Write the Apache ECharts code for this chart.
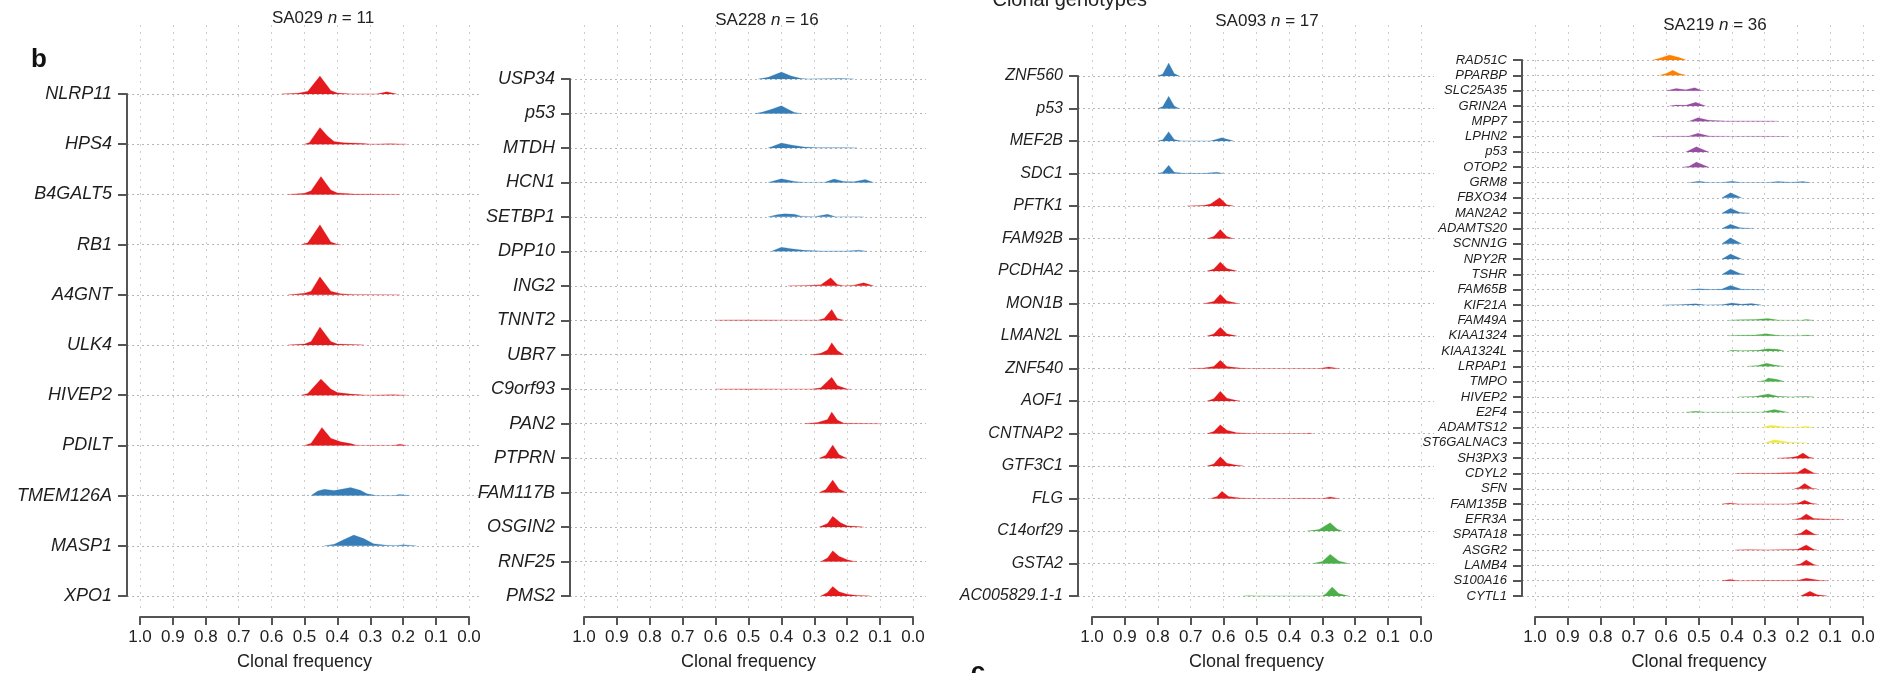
<!DOCTYPE html>
<html><head><meta charset="utf-8">
<script src="https://cdn.jsdelivr.net/npm/echarts/dist/echarts.min.js"></script>
<style>html,body{margin:0;padding:0;background:#fff;}#c{width:1892px;height:673px;}</style>
</head><body><div id="c"></div>
<script>
// ---------------- DATA ----------------
const xTickLabels = ['1.0','0.9','0.8','0.7','0.6','0.5','0.4','0.3','0.2','0.1','0.0'];
const sampleNames = ['SA029','SA228','SA093','SA219'];
const set1 = ['#E41A1C','#377EB8','#4DAF4A','#984EA3','#FF7F00','#F2EA3A'];

const sa029Genes = ['NLRP11','HPS4','B4GALT5','RB1','A4GNT','ULK4','HIVEP2','PDILT','TMEM126A','MASP1','XPO1'];
const sa029Clone = [0,0,0,0,0,0,0,0,1,1,-1];
const sa029Ridges = [
 [[0.57,0],[0.52,0.04],[0.49,0.15],[0.453,1],[0.42,0.2],[0.40,0.05],[0.36,0],[0.28,0],[0.25,0.12],[0.22,0]],
 [[0.50,0],[0.485,0.1],[0.453,0.93],[0.43,0.45],[0.41,0.15],[0.38,0.08],[0.32,0.04],[0.30,0],[0.24,0.02],[0.19,0]],
 [[0.55,0],[0.50,0.06],[0.48,0.2],[0.45,1],[0.42,0.25],[0.40,0.08],[0.35,0.02],[0.21,0]],
 [[0.51,0],[0.49,0.1],[0.453,1.1],[0.42,0.15],[0.40,0.02],[0.39,0]],
 [[0.55,0],[0.50,0.08],[0.48,0.2],[0.453,1],[0.42,0.2],[0.39,0.06],[0.35,0.02],[0.21,0]],
 [[0.55,0],[0.50,0.06],[0.48,0.2],[0.453,1],[0.42,0.2],[0.40,0.05],[0.34,0.02],[0.32,0]],
 [[0.51,0],[0.49,0.1],[0.45,0.9],[0.42,0.35],[0.40,0.15],[0.36,0.06],[0.31,0],[0.23,0.02],[0.19,0]],
 [[0.50,0],[0.48,0.12],[0.447,1],[0.42,0.4],[0.39,0.2],[0.36,0.1],[0.34,0],[0.23,0],[0.21,0.07],[0.19,0]],
 [[0.48,0],[0.46,0.25],[0.44,0.35],[0.41,0.28],[0.38,0.38],[0.36,0.45],[0.33,0.3],[0.31,0.1],[0.28,0],[0.23,0],[0.21,0.06],[0.18,0]],
 [[0.44,0],[0.41,0.08],[0.38,0.35],[0.35,0.6],[0.32,0.4],[0.29,0.12],[0.25,0.03],[0.22,0.02],[0.20,0.06],[0.16,0]],
 null
];

const sa228Genes = ['USP34','p53','MTDH','HCN1','SETBP1','DPP10','ING2','TNNT2','UBR7','C9orf93','PAN2','PTPRN','FAM117B','OSGIN2','RNF25','PMS2'];
const sa228Clone = [1,1,1,1,1,1,0,0,0,0,0,0,0,0,0,0];
const sa228Ridges = [
 [[0.47,0],[0.44,0.15],[0.40,0.58],[0.37,0.25],[0.34,0.05],[0.32,0],[0.27,0.02],[0.22,0.04],[0.18,0]],
 [[0.48,0],[0.46,0.1],[0.43,0.35],[0.40,0.64],[0.38,0.35],[0.36,0.08],[0.34,0]],
 [[0.44,0],[0.42,0.2],[0.40,0.42],[0.37,0.25],[0.33,0.08],[0.29,0.02],[0.20,0.02],[0.17,0]],
 [[0.44,0],[0.40,0.3],[0.36,0.08],[0.33,0],[0.27,0],[0.24,0.28],[0.21,0.08],[0.18,0.05],[0.145,0.25],[0.12,0]],
 [[0.44,0],[0.41,0.2],[0.39,0.25],[0.36,0.22],[0.34,0.06],[0.30,0.02],[0.26,0.22],[0.235,0],[0.20,0.02],[0.15,0]],
 [[0.43,0],[0.40,0.35],[0.37,0.22],[0.33,0.08],[0.28,0.02],[0.20,0.02],[0.165,0.1],[0.14,0]],
 [[0.38,0],[0.33,0.03],[0.28,0.08],[0.25,0.67],[0.23,0.1],[0.21,0],[0.18,0.05],[0.15,0.25],[0.12,0]],
 [[0.60,0],[0.55,0.03],[0.43,0.02],[0.40,0],[0.29,0],[0.27,0.15],[0.247,0.9],[0.23,0.15],[0.21,0]],
 [[0.31,0],[0.28,0.12],[0.26,0.4],[0.247,1.0],[0.23,0.35],[0.21,0]],
 [[0.60,0],[0.50,0.02],[0.40,0],[0.31,0],[0.28,0.12],[0.247,1.0],[0.23,0.3],[0.20,0.02],[0.19,0]],
 [[0.33,0],[0.29,0.1],[0.26,0.35],[0.247,0.97],[0.23,0.3],[0.21,0.04],[0.10,0]],
 [[0.285,0],[0.265,0.25],[0.244,1.1],[0.225,0.3],[0.205,0.03],[0.20,0]],
 [[0.285,0],[0.265,0.25],[0.244,1.05],[0.225,0.3],[0.205,0.03],[0.20,0]],
 [[0.285,0],[0.26,0.3],[0.244,0.9],[0.22,0.35],[0.20,0.1],[0.16,0.02],[0.15,0]],
 [[0.28,0],[0.26,0.3],[0.244,0.9],[0.225,0.45],[0.20,0.15],[0.18,0.02],[0.17,0]],
 [[0.28,0],[0.26,0.3],[0.244,0.8],[0.225,0.35],[0.20,0.15],[0.17,0.05],[0.13,0]]
];

const sa093Genes = ['ZNF560','p53','MEF2B','SDC1','PFTK1','FAM92B','PCDHA2','MON1B','LMAN2L','ZNF540','AOF1','CNTNAP2','GTF3C1','FLG','C14orf29','GSTA2','AC005829.1-1'];
const sa093Clone = [1,1,1,1,0,0,0,0,0,0,0,0,0,0,2,2,2];
const sa093Ridges = [
 [[0.80,0],[0.785,0.15],[0.767,1.0],[0.75,0.2],[0.735,0]],
 [[0.80,0],[0.785,0.15],[0.767,0.95],[0.75,0.2],[0.735,0]],
 [[0.80,0],[0.785,0.1],[0.767,0.72],[0.75,0.12],[0.73,0],[0.64,0],[0.605,0.25],[0.57,0]],
 [[0.80,0],[0.785,0.1],[0.767,0.64],[0.75,0.1],[0.72,0.02],[0.66,0.01],[0.62,0.1],[0.60,0]],
 [[0.71,0],[0.66,0.04],[0.64,0.15],[0.612,0.64],[0.59,0.1],[0.57,0]],
 [[0.65,0],[0.63,0.15],[0.61,0.7],[0.59,0.15],[0.57,0]],
 [[0.65,0],[0.63,0.15],[0.61,0.7],[0.59,0.2],[0.56,0]],
 [[0.66,0],[0.63,0.15],[0.61,0.72],[0.59,0.2],[0.555,0]],
 [[0.65,0],[0.63,0.15],[0.61,0.68],[0.59,0.18],[0.56,0]],
 [[0.70,0],[0.66,0.04],[0.63,0.15],[0.61,0.64],[0.59,0.15],[0.55,0.03],[0.52,0],[0.31,0],[0.28,0.12],[0.25,0]],
 [[0.65,0],[0.63,0.18],[0.61,0.75],[0.59,0.22],[0.56,0.03],[0.55,0]],
 [[0.65,0],[0.63,0.15],[0.61,0.67],[0.59,0.25],[0.56,0.06],[0.51,0],[0.35,0],[0.34,0.03],[0.33,0]],
 [[0.65,0],[0.63,0.15],[0.61,0.72],[0.59,0.22],[0.56,0.06],[0.54,0]],
 [[0.64,0],[0.62,0.15],[0.605,0.55],[0.585,0.15],[0.55,0.04],[0.51,0],[0.40,0],[0.36,0.02],[0.30,0],[0.276,0.12],[0.25,0]],
 [[0.345,0],[0.31,0.12],[0.276,0.64],[0.255,0.15],[0.24,0]],
 [[0.33,0],[0.30,0.15],[0.276,0.72],[0.25,0.2],[0.22,0]],
 [[0.54,0],[0.52,0.02],[0.50,0],[0.30,0],[0.29,0.15],[0.27,0.7],[0.25,0.2],[0.22,0]]
];

const sa219Genes = ['RAD51C','PPARBP','SLC25A35','GRIN2A','MPP7','LPHN2','p53','OTOP2','GRM8','FBXO34','MAN2A2','ADAMTS20','SCNN1G','NPY2R','TSHR','FAM65B','KIF21A','FAM49A','KIAA1324','KIAA1324L','LRPAP1','TMPO','HIVEP2','E2F4','ADAMTS12','ST6GALNAC3','SH3PX3','CDYL2','SFN','FAM135B','EFR3A','SPATA18','ASGR2','LAMB4','S100A16','CYTL1'];
const sa219Clone = [4,4,3,3,3,3,3,3,1,1,1,1,1,1,1,1,1,2,2,2,2,2,2,2,5,5,0,0,0,0,0,0,0,0,0,0];
const sa219Ridges = [
 [[0.64,0],[0.62,0.3],[0.59,0.85],[0.56,0.4],[0.54,0]],
 [[0.62,0],[0.60,0.3],[0.58,0.85],[0.56,0.3],[0.54,0]],
 [[0.60,0],[0.57,0.35],[0.54,0.15],[0.513,0.5],[0.49,0]],
 [[0.59,0],[0.57,0.15],[0.54,0.1],[0.51,0.6],[0.48,0]],
 [[0.53,0],[0.503,0.6],[0.47,0.15],[0.42,0.05],[0.28,0.03],[0.26,0]],
 [[0.64,0],[0.58,0.05],[0.53,0.1],[0.503,0.55],[0.47,0.1],[0.40,0.03],[0.30,0.05],[0.23,0]],
 [[0.54,0],[0.508,0.85],[0.47,0]],
 [[0.55,0],[0.53,0.15],[0.508,0.85],[0.47,0]],
 [[0.53,0],[0.50,0.2],[0.47,0],[0.43,0],[0.40,0.22],[0.37,0],[0.29,0],[0.26,0.15],[0.22,0.05],[0.183,0.15],[0.16,0]],
 [[0.43,0],[0.404,0.85],[0.37,0]],
 [[0.43,0],[0.404,0.8],[0.375,0.1],[0.345,0]],
 [[0.43,0],[0.404,0.7],[0.375,0.12],[0.335,0]],
 [[0.43,0],[0.404,1.0],[0.37,0]],
 [[0.43,0],[0.404,0.85],[0.37,0]],
 [[0.43,0],[0.404,0.85],[0.375,0.15],[0.36,0]],
 [[0.53,0],[0.50,0.15],[0.46,0.03],[0.43,0.1],[0.404,0.7],[0.37,0.08],[0.30,0]],
 [[0.61,0],[0.56,0.05],[0.51,0.2],[0.48,0],[0.43,0.05],[0.40,0.35],[0.37,0.15],[0.34,0.25],[0.31,0]],
 [[0.41,0],[0.38,0.08],[0.33,0.15],[0.29,0.3],[0.26,0.05],[0.24,0],[0.19,0],[0.173,0.15],[0.15,0]],
 [[0.41,0],[0.38,0.08],[0.33,0.12],[0.294,0.3],[0.26,0.05],[0.24,0],[0.19,0],[0.173,0.12],[0.15,0]],
 [[0.41,0],[0.40,0.1],[0.37,0.02],[0.32,0.1],[0.29,0.35],[0.26,0.3],[0.24,0]],
 [[0.35,0],[0.32,0.15],[0.294,0.5],[0.27,0.2],[0.244,0]],
 [[0.32,0],[0.30,0.2],[0.289,0.6],[0.26,0.35],[0.24,0]],
 [[0.38,0],[0.33,0.05],[0.289,0.5],[0.26,0.1],[0.22,0],[0.173,0.08],[0.15,0]],
 [[0.54,0],[0.51,0.15],[0.48,0],[0.31,0],[0.27,0.45],[0.23,0]],
 [[0.31,0],[0.28,0.4],[0.24,0.1],[0.20,0.05],[0.173,0.2],[0.15,0]],
 [[0.30,0],[0.27,0.5],[0.23,0.15],[0.17,0]],
 [[0.26,0],[0.22,0.1],[0.20,0.3],[0.183,0.85],[0.165,0.2],[0.15,0]],
 [[0.39,0],[0.35,0.05],[0.29,0.03],[0.20,0.15],[0.178,0.9],[0.15,0.1],[0.14,0]],
 [[0.21,0],[0.195,0.2],[0.178,0.9],[0.155,0.1],[0.14,0]],
 [[0.43,0],[0.406,0.15],[0.38,0],[0.23,0],[0.20,0.1],[0.178,0.65],[0.155,0.1],[0.14,0]],
 [[0.21,0],[0.19,0.25],[0.173,0.9],[0.15,0.15],[0.10,0.04],[0.06,0]],
 [[0.21,0],[0.19,0.25],[0.173,0.9],[0.15,0.15],[0.14,0]],
 [[0.39,0],[0.35,0.04],[0.29,0.03],[0.20,0.1],[0.173,0.85],[0.15,0.1],[0.14,0]],
 [[0.21,0],[0.19,0.25],[0.173,0.9],[0.15,0.15],[0.14,0]],
 [[0.43,0],[0.406,0.2],[0.38,0],[0.30,0.03],[0.26,0.05],[0.20,0.05],[0.173,0.4],[0.13,0.05],[0.107,0]],
 [[0.19,0],[0.162,0.8],[0.14,0.2],[0.11,0]]
];

// ---------------- LAYOUT / STYLE ----------------
const FONT = "'Liberation Sans', Arial, Helvetica, sans-serif";
const layout = [
  {x1:140,  x0:469,  top:94, bottom:596, axisX:127,  right:482,  peakPx:18, labelSize:18, tx:323,  ty:18.5},
  {x1:584,  x0:913,  top:79, bottom:596, axisX:570,  right:926,  peakPx:12, labelSize:18, tx:767,  ty:20},
  {x1:1092, x0:1421, top:76, bottom:596, axisX:1078, right:1434, peakPx:13, labelSize:16, tx:1267, ty:21.5},
  {x1:1535, x0:1863, top:60, bottom:596, axisX:1522, right:1876, peakPx:6,  labelSize:13, tx:1715, ty:25.5}
];
const panels = [
  {genes:sa029Genes, clone:sa029Clone, ridges:sa029Ridges},
  {genes:sa228Genes, clone:sa228Clone, ridges:sa228Ridges},
  {genes:sa093Genes, clone:sa093Clone, ridges:sa093Ridges},
  {genes:sa219Genes, clone:sa219Clone, ridges:sa219Ridges}
];
const GRID_TOP = 25, GRID_BOTTOM = 612;
const axisColor = '#555';

const grids = [], xAxes = [], yAxes = [], series = [], graphics = [];
panels.forEach((P, p) => {
  const L = layout[p];
  const N = P.genes.length;
  const unit = L.x0 - L.x1;
  grids.push({left:L.x1, top:GRID_TOP, width:unit, height:GRID_BOTTOM-GRID_TOP, outerBoundsMode:'none'});
  grids.push({left:L.axisX, top:L.top, width:L.right-L.axisX, height:L.bottom-L.top, outerBoundsMode:'none'});
  xAxes.push({
    gridIndex:2*p, type:'value', min:0, max:1, interval:0.1, inverse:true, position:'bottom', offset:5,
    axisLine:{show:true, onZero:false, lineStyle:{color:axisColor, width:2}},
    axisTick:{show:true, inside:false, length:8, lineStyle:{color:axisColor, width:2}},
    axisLabel:{show:true, margin:12, fontSize:17, color:'#222', fontFamily:FONT, showMinLabel:true, showMaxLabel:true,
      formatter: v => xTickLabels[Math.round((1 - v) * 10)]},
    splitLine:{show:true, lineStyle:{color:'#cdcdcd', type:[2,5], width:1}},
    name:'Clonal frequency', nameLocation:'middle', nameGap:36,
    nameTextStyle:{fontSize:18, color:'#222', fontFamily:FONT}
  });
  xAxes.push({
    gridIndex:2*p+1, type:'value', inverse:true, show:false,
    min: -(L.right - L.x0) / unit, max: 1 + (L.x1 - L.axisX) / unit
  });
  yAxes.push({gridIndex:2*p, type:'value', min:0, max:1, show:false});
  yAxes.push({
    gridIndex:2*p+1, type:'category', data:P.genes, inverse:true, boundaryGap:false, position:'left',
    axisLine:{show:true, onZero:false, lineStyle:{color:axisColor, width:2}},
    axisTick:{show:true, inside:false, length:9, interval:0, alignWithLabel:true, lineStyle:{color:axisColor, width:2}},
    axisLabel:{show:true, interval:0, margin:15, fontSize:L.labelSize, fontStyle:'italic', color:'#1e1e1e', fontFamily:FONT},
    splitLine:{show:true, interval:0, lineStyle:{color:'#b5b5b5', type:[2,3], width:1}}
  });
  yAxes.push({gridIndex:2*p+1, type:'value', min:0, max:N-1, inverse:true, show:false, position:'left'});

  const spacing = (L.bottom - L.top) / (N - 1);
  const k = L.peakPx / spacing;
  const rows = [];
  P.ridges.forEach((r, i) => { if (r) rows.push([i, i]); });
  series.push({
    type:'custom', coordinateSystem:'cartesian2d', xAxisIndex:2*p+1, yAxisIndex:3*p+2,
    silent:true, clip:false, data:rows,
    renderItem: (params, api) => {
      const row = api.value(0);
      const pts = P.ridges[row].map(([f, d]) => api.coord([f, row - d * k]));
      const col = set1[P.clone[row]];
      return {type:'polygon', shape:{points:pts},
        style:{fill:col, stroke:col, lineWidth:0.7, strokeOpacity:0.3}};
    }
  });
  graphics.push({
    type:'text', x:L.tx, y:L.ty, z:10,
    style:{
      text:'{a|' + sampleNames[p] + ' }{i|n}{a| = ' + N + '}',
      align:'center', verticalAlign:'middle',
      rich:{
        a:{fontSize:17, fontFamily:FONT, fill:'#222', color:'#222'},
        i:{fontSize:17, fontFamily:FONT, fontStyle:'italic', fill:'#222', color:'#222'}
      }
    }
  });
});

graphics.push({type:'rect', z:20, shape:{x:690, y:0, width:160, height:13}, style:{fill:'#fff'}});
graphics.push({type:'text', x:1147, y:10, z:10,
  style:{text:'Clonal genotypes', fontSize:20, fontFamily:FONT, fill:'#222', align:'right', verticalAlign:'bottom'}});
graphics.push({type:'text', x:39, y:60, z:10,
  style:{text:'b', fontSize:26, fontWeight:'bold', fontFamily:FONT, fill:'#111', align:'center', verticalAlign:'middle'}});
graphics.push({type:'text', x:978, y:660, z:10,
  style:{text:'c', fontSize:26, fontWeight:'bold', fontFamily:FONT, fill:'#111', align:'center', verticalAlign:'top'}});

const chart = echarts.init(document.getElementById('c'), null, {renderer:'canvas'});
chart.setOption({
  backgroundColor:'#fff',
  animation:false,
  grid:grids, xAxis:xAxes, yAxis:yAxes, series:series,
  graphic:{elements:graphics}
});
</script></body></html>
